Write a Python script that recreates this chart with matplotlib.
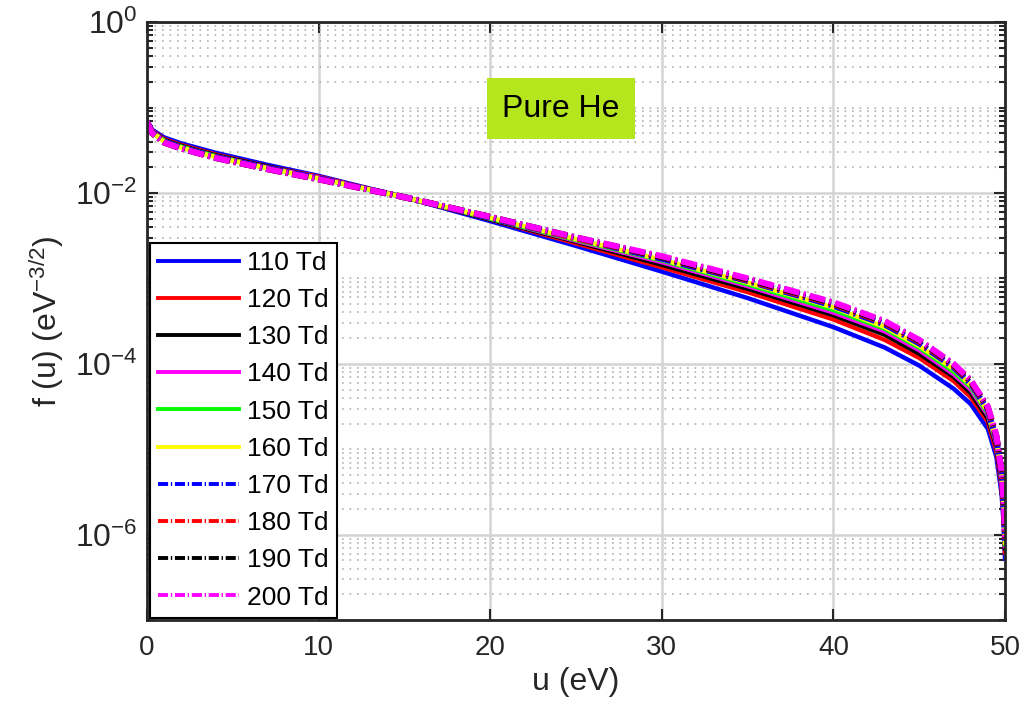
import numpy as np
import matplotlib
matplotlib.use("Agg")
import matplotlib.pyplot as plt
from matplotlib.ticker import LogLocator, FixedLocator, LogFormatterMathtext, NullFormatter

plt.rcParams['font.family'] = ['Liberation Sans', 'DejaVu Sans']
plt.rcParams['mathtext.fontset'] = 'custom'
plt.rcParams['mathtext.rm'] = 'Liberation Sans'
plt.rcParams['mathtext.it'] = 'Liberation Sans'

# -------------------------------
# DATA (log10 of f(u))
# -------------------------------
u = [0, 0.3, 1, 2, 4, 7, 10, 15, 20, 25, 30, 35, 40, 43, 45, 47, 48, 49, 49.5, 49.8, 49.95, 50]

logf_110 = [-1.15, -1.26, -1.35, -1.42, -1.53, -1.67, -1.80, -2.05, -2.33, -2.62, -2.92, -3.23, -3.57, -3.81, -4.02, -4.29, -4.47, -4.76, -5.09, -5.52, -5.95, -6.28]
logf_120 = [-1.16, -1.27, -1.37, -1.44, -1.55, -1.69, -1.81, -2.05, -2.31, -2.59, -2.87, -3.16, -3.48, -3.72, -3.93, -4.20, -4.39, -4.68, -5.02, -5.44, -5.88, -6.21]
logf_130 = [-1.16, -1.28, -1.38, -1.45, -1.56, -1.69, -1.82, -2.05, -2.31, -2.57, -2.84, -3.12, -3.43, -3.66, -3.88, -4.15, -4.34, -4.64, -4.97, -5.40, -5.83, -6.16]
logf_140 = [-1.16, -1.28, -1.39, -1.46, -1.57, -1.70, -1.82, -2.05, -2.30, -2.56, -2.81, -3.09, -3.40, -3.62, -3.84, -4.12, -4.30, -4.60, -4.94, -5.36, -5.80, -6.13]
logf_150 = [-1.16, -1.29, -1.39, -1.46, -1.57, -1.71, -1.83, -2.05, -2.30, -2.55, -2.79, -3.07, -3.37, -3.59, -3.81, -4.09, -4.27, -4.58, -4.92, -5.34, -5.78, -6.11]
logf_160 = [-1.17, -1.29, -1.40, -1.47, -1.58, -1.71, -1.83, -2.05, -2.29, -2.54, -2.78, -3.05, -3.34, -3.57, -3.79, -4.06, -4.25, -4.56, -4.90, -5.32, -5.76, -6.09]
logf_170 = [-1.17, -1.29, -1.40, -1.47, -1.58, -1.71, -1.83, -2.05, -2.29, -2.53, -2.77, -3.03, -3.32, -3.54, -3.76, -4.04, -4.23, -4.54, -4.88, -5.30, -5.74, -6.07]
logf_180 = [-1.17, -1.30, -1.41, -1.48, -1.59, -1.72, -1.84, -2.05, -2.28, -2.53, -2.75, -3.02, -3.30, -3.52, -3.74, -4.02, -4.21, -4.52, -4.86, -5.28, -5.72, -6.05]
logf_190 = [-1.17, -1.30, -1.41, -1.48, -1.59, -1.72, -1.84, -2.05, -2.28, -2.52, -2.75, -3.01, -3.29, -3.51, -3.73, -4.01, -4.20, -4.51, -4.85, -5.27, -5.71, -6.04]
logf_200 = [-1.17, -1.30, -1.41, -1.48, -1.59, -1.72, -1.84, -2.05, -2.28, -2.52, -2.74, -3.00, -3.28, -3.50, -3.72, -4.00, -4.19, -4.50, -4.84, -5.26, -5.70, -6.03]

labels = ["110 Td", "120 Td", "130 Td", "140 Td", "150 Td",
          "160 Td", "170 Td", "180 Td", "190 Td", "200 Td"]
series = [logf_110, logf_120, logf_130, logf_140, logf_150,
          logf_160, logf_170, logf_180, logf_190, logf_200]
colors = ["#0000ff", "#ff0000", "#000000", "#ff00ff", "#00ff00",
          "#ffff00", "#0000ff", "#ff0000", "#000000", "#ff00ff"]

# -------------------------------
# PLOT
# -------------------------------
fig = plt.figure(figsize=(10.28, 7.12), dpi=100)
ax = fig.add_axes([0.143, 0.129, 0.8346, 0.84])

for i, (vals, lab, col) in enumerate(zip(series, labels, colors)):
    f = 10 ** np.array(vals)
    if i < 6:
        ax.plot(u, f, color=col, lw=3.2, ls='-', label=lab)
    else:
        ax.plot(u, f, color=col, lw=4.4, dashes=(2.6, 0.7, 0.35, 0.7), label=lab)

ax.set_yscale('log')
ax.set_xlim(0, 50)
ax.set_ylim(1e-7, 1e0)

ax.xaxis.set_major_locator(FixedLocator([0, 10, 20, 30, 40, 50]))
ax.yaxis.set_major_locator(FixedLocator([1e-6, 1e-4, 1e-2, 1e0]))
ax.yaxis.set_major_formatter(LogFormatterMathtext())
ax.yaxis.set_minor_locator(LogLocator(base=10, subs=np.arange(1, 10), numticks=100))
ax.yaxis.set_minor_formatter(NullFormatter())

ax.grid(True, which='major', color='#d4d4d4', lw=1.8, ls='-')
ax.grid(True, which='minor', axis='y', color='#b0b0b0', lw=1.2, ls=(0, (1, 3.5)))
ax.set_axisbelow(True)

ax.tick_params(which='both', direction='in', top=True, right=True,
               color='#262626', width=1.5, labelcolor='#262626')
ax.tick_params(which='major', length=8)
ax.tick_params(which='minor', length=4)
ax.tick_params(axis='x', pad=11, labelsize=20)
ax.tick_params(axis='y', pad=7, labelsize=23)
for sp in ax.spines.values():
    sp.set_linewidth(2.0)
    sp.set_color('#262626')

ax.set_xlabel("u (eV)", fontsize=23, color='#262626', labelpad=4)
ax.set_ylabel(r"f (u) (eV$^{-3/2}$)", fontsize=23, color='#262626', labelpad=6)

ax.text(24.1, 0.097, "Pure He", fontsize=23, ha='center', va='center',
        bbox=dict(boxstyle='square,pad=0.48', facecolor='#b5e61d', edgecolor='none'))

leg = ax.legend(loc='lower left', bbox_to_anchor=(0, 0), borderaxespad=0.1,
                fontsize=19, handlelength=3.1, handletextpad=0.3,
                labelspacing=0.5, borderpad=0.3, fancybox=False,
                framealpha=1, edgecolor='#000000')
leg.get_frame().set_linewidth(1.5)
for h in leg.get_lines():
    h.set_linewidth(2.8)

fig.savefig("out.png", dpi=100)
